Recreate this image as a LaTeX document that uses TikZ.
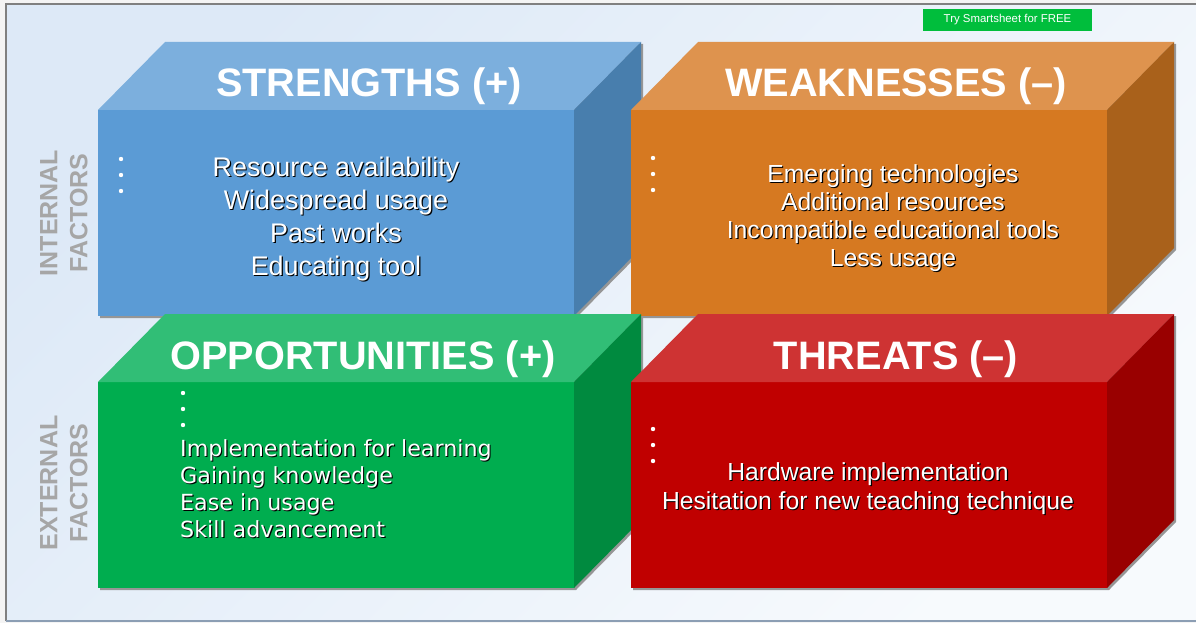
\documentclass[tikz,border=0pt]{standalone}
\usepackage{fontspec}
\setmainfont{Liberation Sans}
\newfontfamily\dejavu{DejaVu Sans}

% palette
\definecolor{outerbg}{RGB}{244,244,244}
\definecolor{bgA}{RGB}{221,233,247}
\definecolor{bgB}{RGB}{247,250,253}
\definecolor{framegray}{RGB}{128,128,128}
\definecolor{framebot}{RGB}{140,158,180}
\definecolor{boxshadow}{RGB}{150,150,150}
\definecolor{sFront}{RGB}{91,155,213}
\definecolor{sTop}{RGB}{124,175,221}
\definecolor{sSide}{RGB}{72,126,173}
\definecolor{wFront}{RGB}{214,121,33}
\definecolor{wTop}{RGB}{222,147,78}
\definecolor{wSide}{RGB}{169,97,27}
\definecolor{oFront}{RGB}{0,173,79}
\definecolor{oTop}{RGB}{49,190,118}
\definecolor{oSide}{RGB}{0,138,63}
\definecolor{tFront}{RGB}{192,0,0}
\definecolor{tTop}{RGB}{206,51,51}
\definecolor{tSide}{RGB}{153,0,0}
\definecolor{btnGreen}{RGB}{0,190,60}
\definecolor{factorgray}{RGB}{166,166,166}

% white text with a small dark drop shadow
\newcommand\shtext[4]{%
  \node[#3, text=black, shift={(1.1,1.1)}] (#1-sh) at #2 {#4};
  \node[#3, text=white] (#1) at #2 {#4};
}

\tikzset{
  % a 3D block: front face, top face and right side, with a drop shadow
  pics/swotbox/.style n args={3}{code={
    \fill[boxshadow] (2,2) -- (69,-66) -- (545,-66) -- (545,140) -- (478,208) -- (2,208) -- cycle;
    \fill[#1] (0,0) rectangle (476,206);
    \fill[#2] (0,0) -- (67,-68) -- (543,-68) -- (476,0) -- cycle;
    \fill[#3] (476,0) -- (543,-68) -- (543,138) -- (476,206) -- cycle;
  }},
  title/.style={text=white, anchor=base, inner sep=0pt,
    font=\bfseries\fontsize{39.7}{44}\selectfont},
  bodytext/.style={anchor=base, inner sep=0pt, font=\fontsize{26.9}{33}\selectfont},
  wtext/.style={anchor=base, inner sep=0pt, font=\fontsize{24.7}{28}\selectfont},
  ttext/.style={anchor=base, inner sep=0pt, font=\fontsize{24.7}{29}\selectfont},
  otext/.style={anchor=base west, inner sep=0pt, font=\dejavu\fontsize{22.2}{27}\selectfont},
  factor/.style={text=factorgray, rotate=90, align=center, inner sep=0pt,
    font=\bfseries\fontsize{25}{30}\selectfont},
  dot/.style={fill=white, draw=none, circle, minimum size=4.4pt, inner sep=0pt},
}

\begin{document}
\begin{tikzpicture}[x=1pt, y=-1pt]
  \useasboundingbox (0,0) rectangle (1196,623);

  % page background and frame
  \fill[outerbg] (0,0) rectangle (1196,623);
  \shade[left color=bgA, right color=bgB, shading angle=45] (6,4) rectangle (1196,621);
  \draw[framegray, line width=1.5pt] (6,621) -- (6,4) -- (1196,4);
  \draw[framebot, line width=1.2pt] (6,621) -- (1196,621);

  % button
  \node[fill=btnGreen, text=white, minimum width=169pt, minimum height=22pt,
        inner sep=0pt, font=\fontsize{11.4}{13}\selectfont] (btn) at (1007.5,20) {Try Smartsheet for FREE};

  % blocks
  \pic at (98,110)  {swotbox={sFront}{sTop}{sSide}};
  \pic at (631,110) {swotbox={wFront}{wTop}{wSide}};
  \pic at (98,382)  {swotbox={oFront}{oTop}{oSide}};
  \pic at (631,382) {swotbox={tFront}{tTop}{tSide}};

  % titles
  \node[title] (sTitle) at (369,97)  {STRENGTHS (+)};
  \node[title] (wTitle) at (896,97)  {WEAKNESSES (–)};
  \node[title] (oTitle) at (363,369) {OPPORTUNITIES (+)};
  \node[title] (tTitle) at (896,369) {THREATS (–)};

  % side labels
  \node[factor] (internal) at (64,213) {INTERNAL\\FACTORS};
  \node[factor] (external) at (64,483) {EXTERNAL\\FACTORS};

  % bullet dots
  \foreach \yy [count=\i] in {159,175,191} {
    \node[dot] (sd\i) at (121,\yy) {};
    \node[dot] (wd\i) at (653,\yy-1) {};
  }
  \foreach \yy [count=\i] in {393,409,425} {
    \node[dot] (od\i) at (183,\yy) {};
  }
  \foreach \yy [count=\i] in {429,445,461} {
    \node[dot] (td\i) at (653,\yy) {};
  }

  % strengths
  \shtext{s1}{(336,176)}{bodytext}{Resource availability}
  \shtext{s2}{(336,209)}{bodytext}{Widespread usage}
  \shtext{s3}{(336,242)}{bodytext}{Past works}
  \shtext{s4}{(336,275)}{bodytext}{Educating tool}

  % weaknesses
  \shtext{w1}{(893,182)}{wtext}{Emerging technologies}
  \shtext{w2}{(893,210)}{wtext}{Additional resources}
  \shtext{w3}{(893,238)}{wtext}{Incompatible educational tools}
  \shtext{w4}{(893,266)}{wtext}{Less usage}

  % opportunities
  \shtext{o1}{(180,456)}{otext}{Implementation for learning}
  \shtext{o2}{(180,483)}{otext}{Gaining knowledge}
  \shtext{o3}{(180,510)}{otext}{Ease in usage}
  \shtext{o4}{(180,537)}{otext}{Skill advancement}

  % threats
  \shtext{t1}{(868,480)}{ttext}{Hardware implementation}
  \shtext{t2}{(868,509)}{ttext}{Hesitation for new teaching technique}
\end{tikzpicture}
\end{document}
